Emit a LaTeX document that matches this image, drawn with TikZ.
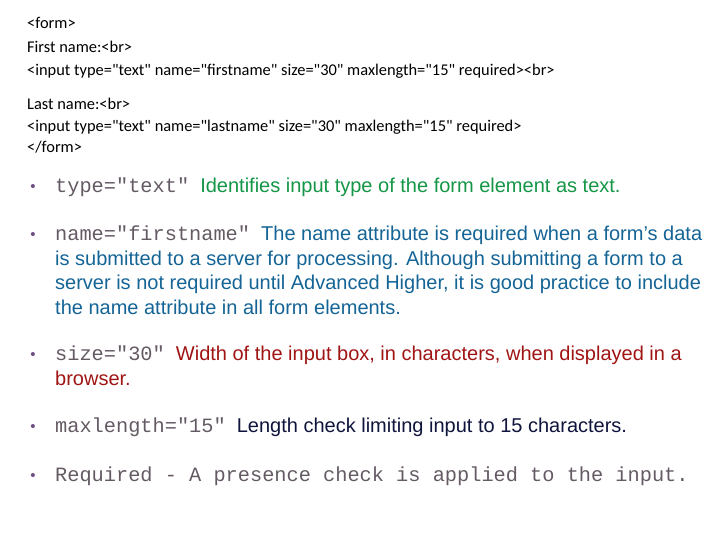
\documentclass[tikz,border=0pt]{standalone}
\usepackage{fontspec}
\setmainfont{Liberation Sans}
\newfontfamily\calibri{Carlito}
\setmonofont{Liberation Mono}
\usepackage{xcolor}
\definecolor{bulletcol}{RGB}{110,80,130}
\definecolor{codecol}{RGB}{100,90,100}
\definecolor{greentxt}{RGB}{20,150,70}
\definecolor{bluetxt}{RGB}{20,100,150}
\definecolor{redtxt}{RGB}{160,20,20}
\definecolor{navytxt}{RGB}{15,20,60}
\newcommand{\attr}[1]{{\fontsize{20.3}{24.5}\ttfamily\color{codecol}#1}}
\tikzset{
  htmlline/.style={anchor=west, inner sep=0pt, font=\calibri\fontsize{16.4}{18}\selectfont},
  bulletdot/.style={anchor=center, inner sep=0pt, text=bulletcol, font=\fontsize{15}{16}\selectfont},
  point/.style={anchor=north west, inner sep=0pt, align=left, font=\fontsize{20}{24.5}\selectfont}
}
\begin{document}
\begin{tikzpicture}[x=1pt,y=-1pt]
        \useasboundingbox (0,0) rectangle (720,540);

        % html source
        \node[htmlline] (l1) at (27,23) {<form>};
        \node[htmlline] (l2) at (27,47) {First name:<br>};
        \node[htmlline] (l3) at (27,71) {<input type="text" name="firstname" size="30" maxlength="15" required><br>};
        \node[htmlline] (l4) at (27,104) {Last name:<br>};
        \node[htmlline] (l5) at (27,127) {<input type="text" name="lastname" size="30" maxlength="15" required>};
        \node[htmlline] (l6) at (27,147) {</form>};

        % bullets
        \foreach \y/\n in {188/a,236/b,356/c,428/d,477/e}
          \node[bulletdot] (dot\n) at (33,\y) {•};

        % explanations
        \node[point] (pa) at (55,178) {\attr{type="text"}\ \ {\color{greentxt}Identifies input type of the form element as text.}};
        \node[point, text=bluetxt] (pb) at (55,226) {\attr{name="firstname"}\ \ The name attribute is required when a form’s data\\
          is submitted to a server for processing. Although submitting a form to a\\
          server is not required until Advanced Higher, it is good practice to include\\
          the name attribute in all form elements.};
        \node[point, text=redtxt] (pc) at (55,346) {\attr{size="30"}\ \ Width of the input box, in characters, when displayed in a\\browser.};
        \node[point] (pd) at (55,418) {\attr{maxlength="15"}\ \ {\color{navytxt}Length check limiting input to 15 characters.}};
        \node[point] (pe) at (55,467) {\attr{Required - A presence check is applied to the input.}};
\end{tikzpicture}
\end{document}
